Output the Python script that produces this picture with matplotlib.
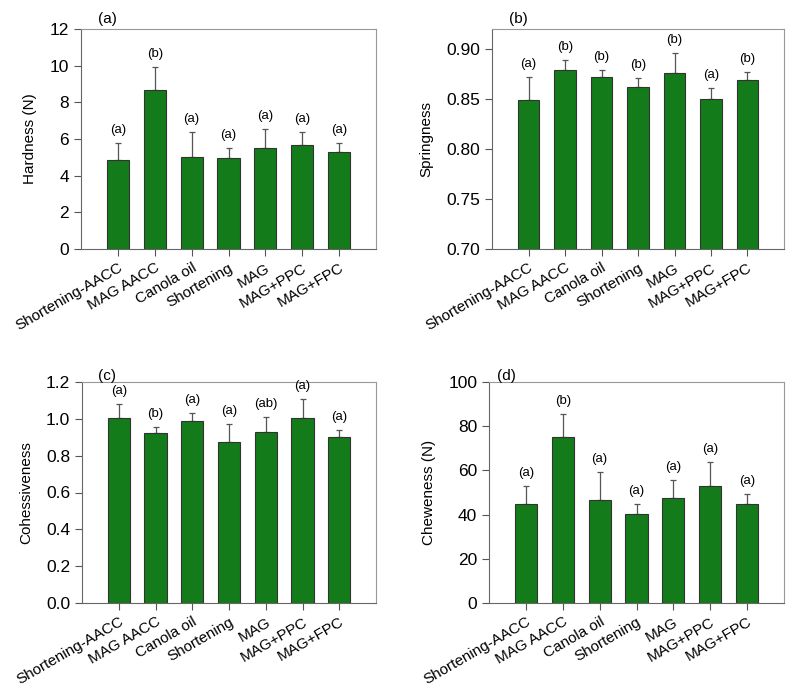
import numpy as np
import matplotlib.pyplot as plt

plt.rcParams['font.family'] = ['Liberation Sans', 'DejaVu Sans']

samples = ["Shortening-AACC", "MAG AACC", "Canola oil", "Shortening",
           "MAG", "MAG+PPC", "MAG+FPC"]

hardness = [4.88, 8.70, 5.04, 4.98, 5.53, 5.67, 5.31]
hardness_sd = [0.92, 1.23, 1.36, 0.55, 1.00, 0.73, 0.49]
hardness_let = ["(a)", "(b)", "(a)", "(a)", "(a)", "(a)", "(a)"]

spring = [0.849, 0.879, 0.872, 0.8625, 0.8763, 0.8502, 0.8689]
spring_sd = [0.0226, 0.0103, 0.0067, 0.0087, 0.020, 0.0113, 0.0077]
spring_let = ["(a)", "(b)", "(b)", "(b)", "(b)", "(a)", "(b)"]

cohes = [1.006, 0.923, 0.988, 0.874, 0.928, 1.006, 0.903]
cohes_sd = [0.073, 0.033, 0.044, 0.098, 0.082, 0.104, 0.035]
cohes_let = ["(a)", "(b)", "(a)", "(a)", "(ab)", "(a)", "(a)"]

chew = [44.9, 75.1, 46.6, 40.3, 47.7, 52.8, 44.8]
chew_sd = [8.0, 10.6, 12.7, 4.5, 8.1, 10.8, 4.5]
chew_let = ["(a)", "(b)", "(a)", "(a)", "(a)", "(a)", "(a)"]

W, H = 797, 692
fig = plt.figure(figsize=(W / 100, H / 100), dpi=100)


def box(l, r, t, b):
    return [l / W, 1 - b / H, (r - l) / W, (b - t) / H]


panels = [
    (box(81, 376, 29, 249), hardness, hardness_sd, hardness_let, "Hardness (N)",
     (0, 12), np.arange(0, 13, 2), "%d", "(a)", (0.088, 1.045)),
    (box(492, 784, 29, 249), spring, spring_sd, spring_let, "Springness",
     (0.70, 0.92), np.arange(0.70, 0.901, 0.05), "%.2f", "(b)", (0.089, 1.045)),
    (box(82, 376, 382, 603), cohes, cohes_sd, cohes_let, "Cohessiveness",
     (0, 1.2), np.arange(0, 1.21, 0.2), "%.1f", "(c)", (0.085, 1.027)),
    (box(489, 784, 382, 603), chew, chew_sd, chew_let, "Cheweness (N)",
     (0, 100), np.arange(0, 101, 20), "%d", "(d)", (0.058, 1.027)),
]

x = np.arange(len(samples))
for rect, vals, sd, lets, ylab, ylim, yt, fmt, tag, tagpos in panels:
    ax = fig.add_axes(rect)
    ax.bar(x, vals, width=0.6, color="#137b19", edgecolor="#333333",
           linewidth=0.8, zorder=2)
    ax.errorbar(x, vals, yerr=[np.zeros(len(sd)), sd], fmt="none",
                ecolor="#555555", elinewidth=0.9, capsize=2.5, capthick=0.9,
                zorder=1)
    for xi, v, s, l in zip(x, vals, sd, lets):
        ax.annotate(l, (xi, v + s), xytext=(0, 5), textcoords="offset points",
                    ha="center", va="bottom", fontsize=9.5)
    ax.set_xlim(-1, 7)
    ax.set_ylim(*ylim)
    ax.set_yticks(yt)
    ax.set_yticklabels([fmt % t for t in yt], fontsize=12.5)
    ax.set_xticks(x)
    ax.set_xticklabels(samples, rotation=30, ha="right",
                       rotation_mode="anchor", fontsize=11)
    ax.set_ylabel(ylab, fontsize=11, labelpad=9)
    for side in ["top", "right"]:
        ax.spines[side].set_color("#999999")
    for side in ["left", "bottom"]:
        ax.spines[side].set_color("#666666")
    ax.tick_params(direction="out", length=5, color="#555555", width=0.8)
    ax.text(tagpos[0], tagpos[1], tag, transform=ax.transAxes,
            ha="center", va="center", fontsize=11)

fig.savefig("out.png", dpi=100)
